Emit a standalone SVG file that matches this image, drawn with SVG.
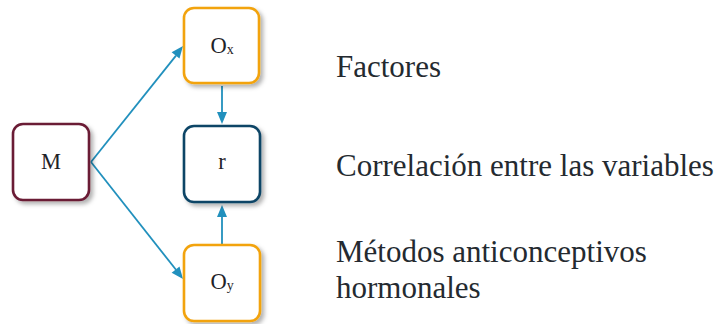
<svg xmlns="http://www.w3.org/2000/svg" width="728" height="324" viewBox="0 0 728 324">
<defs>
<filter id="sh" x="-20%" y="-20%" width="150%" height="150%">
<feDropShadow dx="3" dy="3" stdDeviation="2.2" flood-color="#000" flood-opacity="0.3"/>
</filter>
</defs>
<g id="connectors">
<g stroke="#2190bd" stroke-width="1.8" fill="none">
<path d="M91,162 L176,55.6"/>
<path d="M91,162 L176,269.8"/>
<path d="M222,86 L222,113"/>
<path d="M222,244 L222,216"/>
</g>
<g fill="#2190bd">
<polygon points="183,46 179.46,58.51 171.63,52.29"/>
<polygon points="183,279 171.65,272.66 179.51,266.48"/>
<polygon points="222,124 217,112 227,112"/>
<polygon points="222,205 217,217 227,217"/>
</g>
</g>
<g id="node-M">
<rect x="13" y="124" width="76" height="76" rx="10" fill="#fff" stroke="#6b1a35" stroke-width="2.6" filter="url(#sh)"/>
<text x="51" y="169" font-family="Liberation Serif, Times New Roman, serif" font-size="22.5" fill="#1f2328" text-anchor="middle">M</text>
</g>
<g id="node-Ox">
<rect x="184" y="8" width="75" height="75" rx="10" fill="#fff" stroke="#f2a310" stroke-width="2.6" filter="url(#sh)"/>
<text x="222" y="53" font-family="Liberation Serif, Times New Roman, serif" font-size="22.5" fill="#1f2328" text-anchor="middle">O<tspan font-size="14" dy="1">x</tspan></text>
</g>
<g id="node-r">
<rect x="184" y="126" width="76" height="76" rx="10" fill="#fff" stroke="#0d4566" stroke-width="2.6" filter="url(#sh)"/>
<text x="222" y="169" font-family="Liberation Serif, Times New Roman, serif" font-size="22.5" fill="#1f2328" text-anchor="middle">r</text>
</g>
<g id="node-Oy">
<rect x="184" y="245" width="76" height="76" rx="10" fill="#fff" stroke="#f2a310" stroke-width="2.6" filter="url(#sh)"/>
<text x="222" y="289" font-family="Liberation Serif, Times New Roman, serif" font-size="22.5" fill="#1f2328" text-anchor="middle">O<tspan font-size="14" dy="1">y</tspan></text>
</g>
<g id="labels">
<text x="336" y="77" font-family="Liberation Serif, Times New Roman, serif" font-size="31" fill="#242a30">Factores</text>
<text x="336" y="176" font-family="Liberation Serif, Times New Roman, serif" font-size="31" fill="#242a30">Correlación entre las variables</text>
<text x="336" y="262" font-family="Liberation Serif, Times New Roman, serif" font-size="31" fill="#242a30">Métodos anticonceptivos</text>
<text x="336" y="298" font-family="Liberation Serif, Times New Roman, serif" font-size="31" fill="#242a30">hormonales</text>
</g>
</svg>
